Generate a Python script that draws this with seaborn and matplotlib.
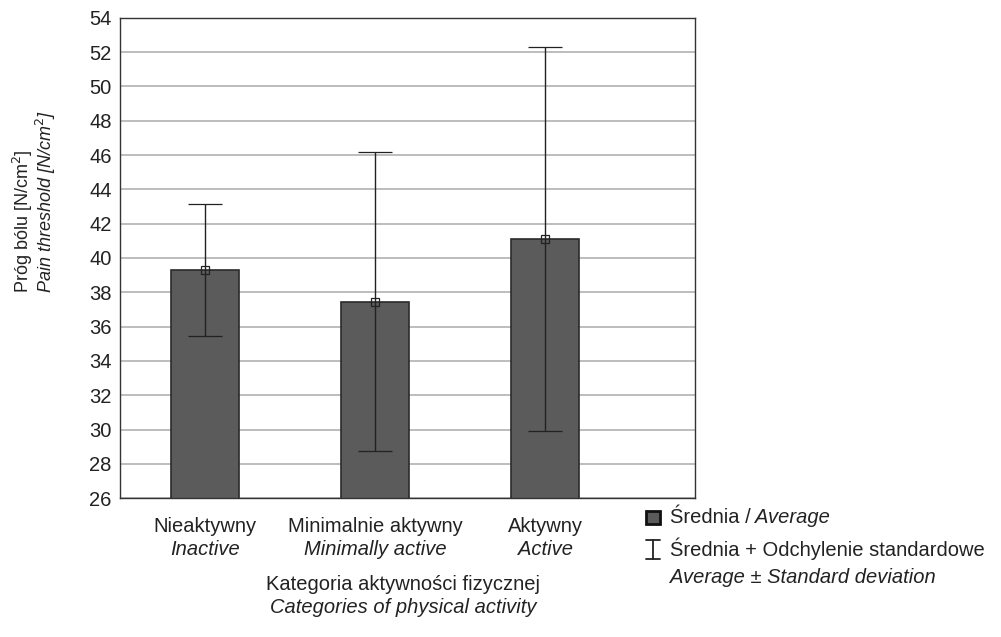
import numpy as np
import pandas as pd
import matplotlib
matplotlib.use("Agg")
import matplotlib.pyplot as plt
import seaborn as sns
from matplotlib.lines import Line2D
from matplotlib.patches import Rectangle
from matplotlib.transforms import blended_transform_factory

# data
categories_pl = ["Nieaktywny", "Minimalnie aktywny", "Aktywny"]
categories_en = ["Inactive", "Minimally active", "Active"]
means = [39.3, 37.45, 41.1]
sds = [3.85, 8.7, 11.2]
yticks = list(range(26, 56, 2))

sns.set_theme(style="white")
plt.rcParams["font.family"] = ["Liberation Sans", "DejaVu Sans"]
FS = 14.5
TXT = "#222222"

df = pd.DataFrame({"cat": categories_pl, "mean": means, "sd": sds})

fig = plt.figure(figsize=(10.01, 6.37), dpi=100)
ax = fig.add_axes([0.12, 0.218, 0.574, 0.754])

sns.barplot(data=df, x="cat", y="mean", color="#5b5b5b", saturation=1,
            width=0.4, edgecolor="#2a2a2a", linewidth=1.2, ax=ax, zorder=2)
ax.errorbar(np.arange(len(means)), means, yerr=sds, fmt="s", ms=6,
            mfc="none", mec=TXT, mew=0.9, ecolor=TXT,
            elinewidth=1.0, capsize=12, capthick=1.3, zorder=4)

ax.set_ylim(26, 54)
ax.set_xlim(-0.5, 2.88)
ax.set_yticks(yticks)
ax.set_yticklabels([str(t) for t in yticks], fontsize=FS, color=TXT)
ax.yaxis.grid(True, color="#b8b8b8", linewidth=1.3, zorder=0)
ax.set_axisbelow(True)
ax.tick_params(axis="y", direction="in", length=4, color="#333333", pad=6)
ax.tick_params(axis="x", direction="in", length=3, color="#333333")
ax.set_xticks(range(len(categories_pl)))
ax.set_xticklabels([])
ax.set_xlabel("")
ax.set_ylabel("")
for s in ax.spines.values():
    s.set_color("#333333")
    s.set_linewidth(1.0)

# two-line category labels
tr = blended_transform_factory(ax.transData, ax.transAxes)
for i, (pl, en) in enumerate(zip(categories_pl, categories_en)):
    ax.text(i, -0.059, pl, transform=tr, ha="center", va="center",
            fontsize=FS, color=TXT)
    ax.text(i, -0.107, en, transform=tr, ha="center", va="center",
            fontsize=FS, style="italic", color=TXT)

# axis titles
fig.text(0.403, 0.082, "Kategoria aktywności fizycznej", ha="center",
         va="center", fontsize=FS, color=TXT)
fig.text(0.403, 0.046, "Categories of physical activity", ha="center",
         va="center", fontsize=FS, style="italic", color=TXT)
fig.text(0.023, 0.54, "Próg bólu [N/cm$^2$]", rotation=90, ha="center",
         va="bottom", fontsize=13, color=TXT)
fig.text(0.046, 0.54, "Pain threshold [N/cm$^2$]", rotation=90, ha="center",
         va="bottom", fontsize=13, style="italic", color=TXT)

# legend
fig.patches.append(Rectangle((0.645, 0.178), 0.014, 0.02, transform=fig.transFigure,
                             facecolor="#5b5b5b", edgecolor="#111111", linewidth=2))
for xs, ys in [([0.652, 0.652], [0.123, 0.153]), ([0.645, 0.659], [0.153, 0.153]),
               ([0.645, 0.659], [0.123, 0.123])]:
    fig.lines.append(Line2D(xs, ys, transform=fig.transFigure, color=TXT, linewidth=1.3))

t1 = fig.text(0.669, 0.187, "Średnia /", ha="left", va="center", fontsize=FS, color=TXT)
fig.canvas.draw()
bb = t1.get_window_extent(renderer=fig.canvas.get_renderer())
fig.text(bb.x1 / fig.bbox.width + 0.005, 0.187, "Average", ha="left", va="center",
         fontsize=FS, style="italic", color=TXT)
fig.text(0.669, 0.138, "Średnia + Odchylenie standardowe", ha="left", va="center",
         fontsize=FS, color=TXT)
fig.text(0.669, 0.093, "Average ± Standard deviation", ha="left", va="center",
         fontsize=FS, style="italic", color=TXT)

fig.savefig("out.png", dpi=100, facecolor="white")
